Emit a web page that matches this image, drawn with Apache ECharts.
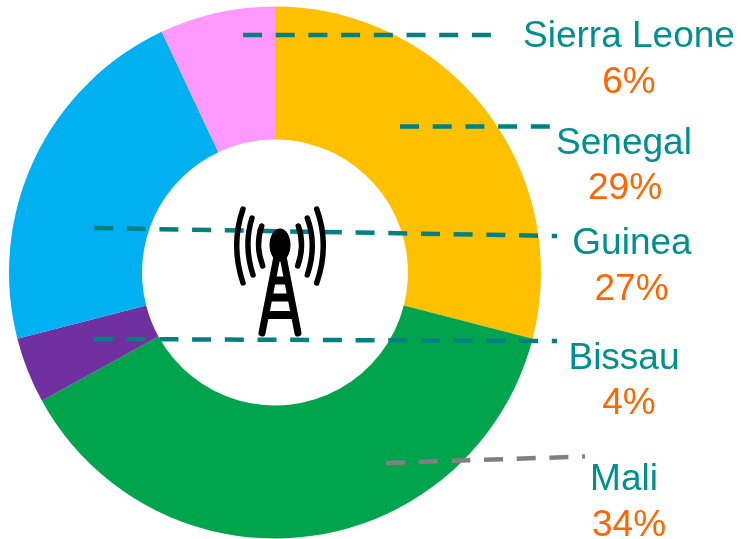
<!DOCTYPE html>
<html>
<head>
<meta charset="utf-8">
<style>html,body{margin:0;padding:0;background:#fff}#c{width:741px;height:539px}</style>
<script src="https://cdn.jsdelivr.net/npm/echarts@6/dist/echarts.min.js"></script>
</head>
<body>
<div id="c"></div>
<script>
// Data, clockwise from 12 o'clock
const categories = ['Senegal', 'Mali', 'Bissau', 'Guinea', 'Sierra Leone'];
const sliceValues = [29, 38, 4, 22, 7];            // sizes as drawn in the picture
const printedPercent = ['29%', '34%', '4%', '27%', '6%']; // numbers as printed in the labels
const sliceColors = ['#FFC000', '#00A44C', '#7030A0', '#00B0F0', '#FF99FF'];

// Label placement: [name x, name y, percent x, percent y]
const labelSpots = [
  [624, 144, 625, 189],
  [624, 480, 629, 525.5],
  [624, 359, 629, 404],
  [632, 244, 631.5, 290],
  [629, 37, 629, 83]
];
const leaderLines = [
  [400, 126.5, 551, 126.5],
  [386, 463, 585, 456.5],
  [94, 339, 557, 341],
  [94, 228, 557, 236],
  [243, 35, 492, 35]
];
const leaderColors = ['#008080', '#808080', '#008080', '#008080', '#008080'];

// Tower icon: [x1, y1, cpx, cpy, x2, y2]
const towerArcs = [
  [243, 209, 230.4, 245, 243, 283], [252, 218, 243.4, 245, 253, 275], [261.7, 226, 254.9, 245, 262.7, 266],
  [298.3, 226, 305.1, 245, 297.7, 266], [307.3, 218, 317.3, 245, 307.3, 275], [316.7, 209, 329.9, 245, 316.7, 283]
];
const towerLegs = [[276.7, 258, 262, 333], [283.3, 258, 298, 333]];
const towerBars = [[273, 280.5, 287, 280.5], [270, 297.5, 290, 297.5], [267, 315, 293, 315]];

const font = '37px "Liberation Sans", Arial, sans-serif';
const textAt = (text, x, y, color) => ({
  type: 'text', z: 90, x, y,
  style: {text, fill: color, font, align: 'center', verticalAlign: 'middle'}
});

const overlay = [].concat(
  leaderLines.map((l, i) => ({type: 'line', z: 80,
    shape: {x1: l[0], y1: l[1], x2: l[2], y2: l[3]},
    style: {stroke: leaderColors[i], lineWidth: 4.5, lineDash: [19, 13.7]}})),
  categories.map((name, i) => textAt(name, labelSpots[i][0], labelSpots[i][1], '#008F8F')),
  printedPercent.map((p, i) => textAt(p, labelSpots[i][2], labelSpots[i][3], '#FF6600')),
  towerArcs.map(a => ({type: 'bezierCurve', z: 100,
    shape: {x1: a[0], y1: a[1], cpx1: a[2], cpy1: a[3], x2: a[4], y2: a[5]},
    style: {fill: null, stroke: '#000', lineWidth: 5.5, lineCap: 'round'}})),
  towerLegs.map(l => ({type: 'line', z: 100,
    shape: {x1: l[0], y1: l[1], x2: l[2], y2: l[3]},
    style: {stroke: '#000', lineWidth: 7, lineCap: 'round'}})),
  towerBars.map(l => ({type: 'line', z: 100,
    shape: {x1: l[0], y1: l[1], x2: l[2], y2: l[3]},
    style: {stroke: '#000', lineWidth: 8}})),
  [{type: 'ellipse', z: 101, shape: {cx: 280, cy: 245, rx: 10.5, ry: 16.5}, style: {fill: '#000'}}]
);

const chart = echarts.init(document.getElementById('c'), null, {renderer: 'canvas'});
chart.setOption({
  animation: false,
  backgroundColor: '#fff',
  series: [{
    type: 'pie',
    center: [275, 272.5],
    radius: [133, 266],
    startAngle: 90,
    clockwise: true,
    silent: true,
    label: {show: false},
    labelLine: {show: false},
    itemStyle: {borderWidth: 0},
    data: categories.map((name, i) => ({
      name,
      value: sliceValues[i],
      itemStyle: {color: sliceColors[i]}
    }))
  }],
  graphic: overlay
});
</script>
</body>
</html>
